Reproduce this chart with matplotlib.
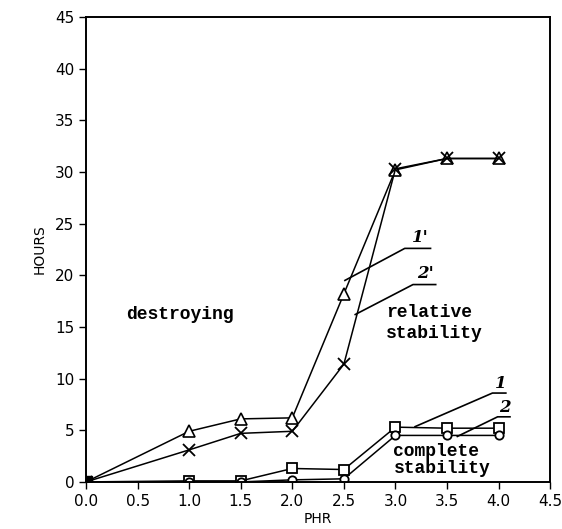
import matplotlib
matplotlib.use("Agg")
import matplotlib.pyplot as plt

phr = [0.0, 1.0, 1.5, 2.0, 2.5, 3.0, 3.5, 4.0]
s1p = [0.0, 4.9, 6.1, 6.2, 18.2, 30.2, 31.3, 31.3]   # triangles (1')
s2p = [0.0, 3.1, 4.7, 4.9, 11.4, 30.3, 31.3, 31.3]   # crosses (2')
s1 = [0.0, 0.1, 0.1, 1.3, 1.2, 5.3, 5.2, 5.2]        # squares (1)
s2 = [0.0, 0.0, 0.0, 0.2, 0.3, 4.5, 4.5, 4.5]        # circles (2)

xticks = [0.0, 0.5, 1.0, 1.5, 2.0, 2.5, 3.0, 3.5, 4.0, 4.5]
yticks = [0, 5, 10, 15, 20, 25, 30, 35, 40, 45]

fig = plt.figure(figsize=(5.62, 5.29), dpi=100)
ax = fig.add_axes([0.153, 0.089, 0.826, 0.879])

lw = 1.1
ax.plot(phr, s1p, color='black', lw=lw, marker='^', mfc='white', mec='black', ms=8, mew=1.2)
ax.plot(phr, s2p, color='black', lw=lw, marker='x', ms=8, mew=1.3)
ax.plot(phr, s1, color='black', lw=lw, marker='s', mfc='white', mec='black', ms=7, mew=1.3)
ax.plot(phr, s2, color='black', lw=lw, marker='o', mfc='white', mec='black', ms=6, mew=1.3)
ax.plot([0.0], [0.0], marker='s', color='black', ms=9)

# label leader lines
ax.plot([2.51, 3.09, 3.34], [19.5, 22.6, 22.6], color='black', lw=1.2)
ax.plot([2.61, 3.17, 3.39], [16.2, 19.1, 19.1], color='black', lw=1.2)
ax.plot([3.19, 3.94, 4.07], [5.35, 8.6, 8.6], color='black', lw=1.2)
ax.plot([3.6, 3.99, 4.11], [4.4, 6.3, 6.3], color='black', lw=1.2)

lab = dict(fontsize=12, fontweight='bold', fontstyle='italic', family='DejaVu Serif', ha='center', va='bottom')
ax.text(3.24, 22.8, "1'", **lab)
ax.text(3.29, 19.3, "2'", **lab)
ax.text(4.02, 8.7, "1", **lab)
ax.text(4.06, 6.4, "2", **lab)

txt = dict(fontsize=13, fontweight='bold', family='Liberation Mono', ha='left', va='center')
ax.text(0.39, 16.2, "destroying", **txt)
ax.text(2.91, 16.4, "relative", **txt)
ax.text(2.91, 14.4, "stability", **txt)
ax.text(2.98, 2.9, "complete", **txt)
ax.text(2.98, 1.3, "stability", **txt)

ax.set_xlim(0, 4.5)
ax.set_ylim(0, 45)
ax.set_xticks(xticks)
ax.set_xticklabels([f"{v:.1f}" for v in xticks])
ax.set_yticks(yticks)
ax.set_yticklabels([str(v) for v in yticks])
ax.tick_params(direction='out', length=5, width=1, labelsize=11, colors='black')
for sp in ax.spines.values():
    sp.set_linewidth(1.4)
ax.set_xlabel("PHR", fontsize=10, labelpad=2)
ax.set_ylabel("HOURS", fontsize=10, labelpad=6)

fig.savefig("out.png", dpi=100)
